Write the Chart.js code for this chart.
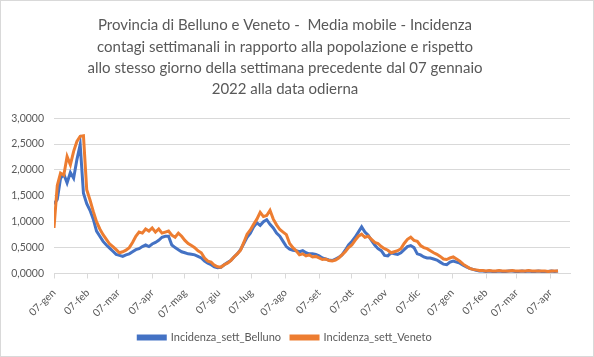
<!DOCTYPE html>
<html><head><meta charset="utf-8">
<script src="https://cdn.jsdelivr.net/npm/chart.js@4.4.1/dist/chart.umd.min.js"></script>
<style>html,body{margin:0;padding:0;background:#fff;overflow:hidden}#wrap{width:594px;height:357px}</style>
</head><body><div id="wrap"><canvas id="c" width="594" height="357"></canvas></div>
<script>
const titleLines = [
  'Provincia di Belluno e Veneto -  Media mobile - Incidenza',
  'contagi settimanali in rapporto alla popolazione e rispetto',
  'allo stesso giorno della settimana precedente dal 07 gennaio',
  '2022 alla data odierna'
];
const seriesNames = ['Incidenza_sett_Belluno', 'Incidenza_sett_Veneto'];
const tickLabels = ['07-gen','07-feb','07-mar','07-apr','07-mag','07-giu','07-lug','07-ago','07-set','07-ott','07-nov','07-dic','07-gen','07-feb','07-mar','07-apr'];
// day offsets (from 07-gen-2022) of the labelled dates
const tickDays = [0,31,59,90,120,151,181,212,243,273,304,334,365,396,424,455];
// one reading every 3 days, starting 07-gen-2022
const dayStep = 3;
const belluno = [
  1.34,1.43,1.84,1.92,1.75,1.95,1.84,2.20,2.49,1.55,
  1.35,1.22,1.05,0.82,0.72,0.62,0.55,0.49,0.43,0.37,
  0.35,0.33,0.36,0.38,0.42,0.46,0.48,0.52,0.55,0.52,
  0.57,0.60,0.64,0.70,0.72,0.72,0.55,0.50,0.46,0.42,
  0.40,0.38,0.37,0.36,0.33,0.30,0.24,0.20,0.17,0.13,
  0.11,0.12,0.17,0.21,0.25,0.32,0.38,0.46,0.58,0.70,
  0.78,0.90,0.98,0.93,1.00,1.04,0.95,0.88,0.78,0.72,
  0.62,0.52,0.47,0.45,0.44,0.42,0.44,0.40,0.38,0.38,
  0.37,0.34,0.30,0.28,0.26,0.25,0.28,0.31,0.36,0.45,
  0.55,0.62,0.70,0.80,0.90,0.80,0.74,0.64,0.55,0.48,
  0.44,0.35,0.34,0.40,0.38,0.37,0.40,0.46,0.52,0.54,
  0.50,0.38,0.36,0.32,0.30,0.30,0.28,0.26,0.22,0.18,
  0.17,0.22,0.24,0.22,0.20,0.16,0.13,0.10,0.08,0.06,
  0.05,0.05,0.04,0.05,0.04,0.04,0.05,0.04,0.04,0.05,
  0.05,0.04,0.04,0.05,0.04,0.05,0.04,0.04,0.05,0.04,
  0.04,0.04,0.05,0.04,0.05
];
const veneto = [
  0.88,1.70,1.94,1.90,2.26,2.10,2.36,2.55,2.65,2.66,
  1.62,1.42,1.20,1.00,0.86,0.75,0.66,0.57,0.52,0.46,
  0.40,0.42,0.45,0.50,0.60,0.72,0.80,0.78,0.86,0.82,
  0.88,0.80,0.86,0.78,0.80,0.82,0.74,0.70,0.78,0.72,
  0.64,0.58,0.54,0.50,0.44,0.40,0.30,0.24,0.22,0.16,
  0.13,0.12,0.17,0.20,0.25,0.32,0.38,0.45,0.60,0.76,
  0.84,0.95,1.05,1.18,1.10,1.12,1.22,1.05,0.94,0.85,
  0.80,0.75,0.58,0.50,0.44,0.36,0.38,0.34,0.36,0.32,
  0.33,0.30,0.27,0.28,0.25,0.24,0.26,0.30,0.36,0.42,
  0.50,0.55,0.64,0.72,0.76,0.70,0.72,0.66,0.60,0.58,
  0.52,0.48,0.45,0.40,0.42,0.44,0.48,0.58,0.66,0.70,
  0.64,0.62,0.54,0.50,0.48,0.44,0.40,0.37,0.33,0.28,
  0.27,0.30,0.32,0.28,0.24,0.18,0.14,0.10,0.08,0.07,
  0.06,0.06,0.05,0.06,0.05,0.05,0.06,0.05,0.05,0.05,
  0.06,0.05,0.05,0.05,0.05,0.06,0.05,0.05,0.05,0.05,
  0.05,0.04,0.05,0.05,0.05
];
const colors = ['#4472C4', '#ED7D31'];
const textColor = '#595959';
const FONT = 'Lato, "Open Sans", sans-serif';

const toPoints = arr => arr.map((v, i) => ({ x: i * dayStep, y: v }));

const frame = {
  id: 'frame',
  beforeDraw(chart) {
    const c = chart.ctx;
    c.save();
    c.fillStyle = '#fff';
    c.fillRect(0, 0, chart.width, chart.height);
    c.strokeStyle = '#d9d9d9';
    c.lineWidth = 1;
    c.strokeRect(0.5, 0.5, chart.width - 1, chart.height - 1);
    c.restore();
  }
};

new Chart(document.getElementById('c'), {
  type: 'line',
  data: {
    datasets: [
      { label: seriesNames[0], data: toPoints(belluno), borderColor: colors[0], backgroundColor: colors[0], borderWidth: 3, pointRadius: 0, tension: 0, order: 1 },
      { label: seriesNames[1], data: toPoints(veneto), borderColor: colors[1], backgroundColor: colors[1], borderWidth: 3, pointRadius: 0, tension: 0, order: 0 }
    ]
  },
  options: {
    responsive: false,
    animation: false,
    layout: { padding: { left: 0, right: 24, top: 0, bottom: 4 } },
    plugins: {
      tooltip: { enabled: false },
      title: {
        display: true,
        text: titleLines,
        color: textColor,
        font: { family: FONT, size: 15, weight: 'normal', lineHeight: 1.42 },
        padding: { top: 15, bottom: 18 }
      },
      legend: {
        position: 'bottom',
        labels: {
          color: textColor,
          font: { family: FONT, size: 11 },
          boxWidth: 27,
          boxHeight: 3,
          padding: 10,
          sort: (a, b) => a.datasetIndex - b.datasetIndex
        }
      }
    },
    scales: {
      x: {
        type: 'linear',
        min: 0,
        max: 473,
        afterBuildTicks: axis => { axis.ticks = tickDays.map(v => ({ value: v })); },
        afterFit: axis => { axis.height = 48.5; },
        ticks: {
          color: textColor,
          font: { family: FONT, size: 10.5 },
          minRotation: 45,
          maxRotation: 45,
          autoSkip: false,
          padding: 8,
          callback: (v, i) => tickLabels[i]
        },
        grid: { drawOnChartArea: false, drawTicks: true, tickLength: 5, color: '#d9d9d9' },
        border: { color: '#d9d9d9' }
      },
      y: {
        min: 0,
        max: 3,
        afterFit: axis => { axis.width = 54; },
        ticks: {
          stepSize: 0.5,
          color: textColor,
          font: { family: FONT, size: 10.5 },
          padding: 10,
          callback: v => v.toFixed(4).replace('.', ',')
        },
        grid: { color: '#d9d9d9', drawTicks: false },
        border: { display: false }
      }
    }
  },
  plugins: [frame]
});
</script>
</body></html>
